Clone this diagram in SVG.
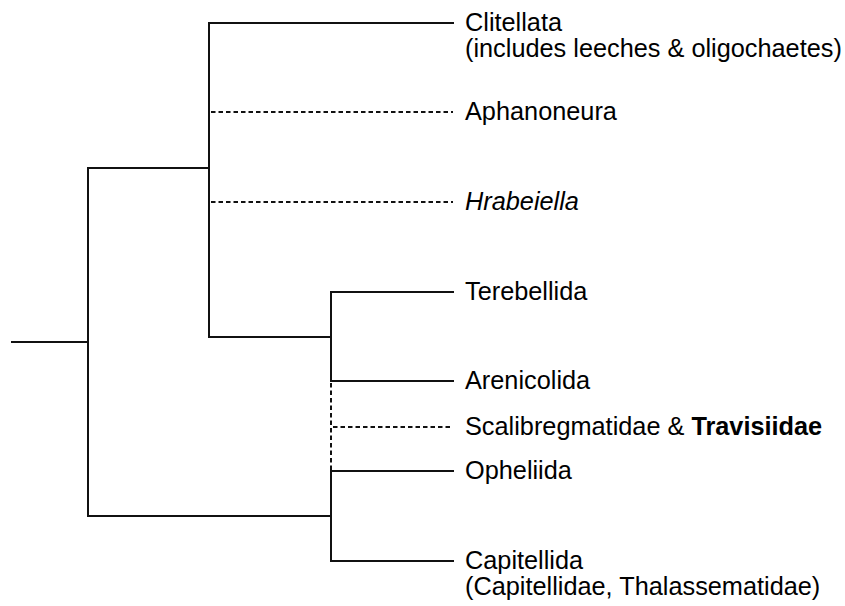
<svg xmlns="http://www.w3.org/2000/svg" width="845" height="606" viewBox="0 0 845 606">
<style>
.ln{fill:none;stroke:#111;stroke-width:2;stroke-linecap:square}
.ds{fill:none;stroke:#111;stroke-width:2;stroke-dasharray:4.5,3}
text{font-family:"Liberation Sans",Arial,sans-serif;font-size:25.3px;fill:#000}
</style>
<rect width="845" height="606" fill="#fff"/>
<g id="connectors">
<path class="ln" d="M12,342 H88 M88,168 V516 M88,168 H209 M209,23 V337 M209,23 H453 M209,337 H331 M331,292 V381 M331,471 V561 M331,292 H453 M331,381 H453 M331,471 H453 M331,561 H453 M88,516 H331"/>
<path class="ds" d="M211,112 H453 M211,202 H453 M333,427 H453 M331,383 V470"/>
</g>
<g id="clitellata"><text x="465" y="31">Clitellata</text><text x="465" y="57">(includes leeches &amp; oligochaetes)</text></g>
<g id="aphanoneura"><text x="465" y="120">Aphanoneura</text></g>
<g id="hrabeiella"><text x="465" y="210" font-style="italic">Hrabeiella</text></g>
<g id="terebellida"><text x="465" y="300">Terebellida</text></g>
<g id="arenicolida"><text x="465" y="389">Arenicolida</text></g>
<g id="scalibregmatidae"><text x="465" y="435">Scalibregmatidae &amp; <tspan font-weight="bold">Travisiidae</tspan></text></g>
<g id="opheliida"><text x="465" y="479">Opheliida</text></g>
<g id="capitellida"><text x="465" y="569">Capitellida</text><text x="465" y="595">(Capitellidae, Thalassematidae)</text></g>
</svg>
